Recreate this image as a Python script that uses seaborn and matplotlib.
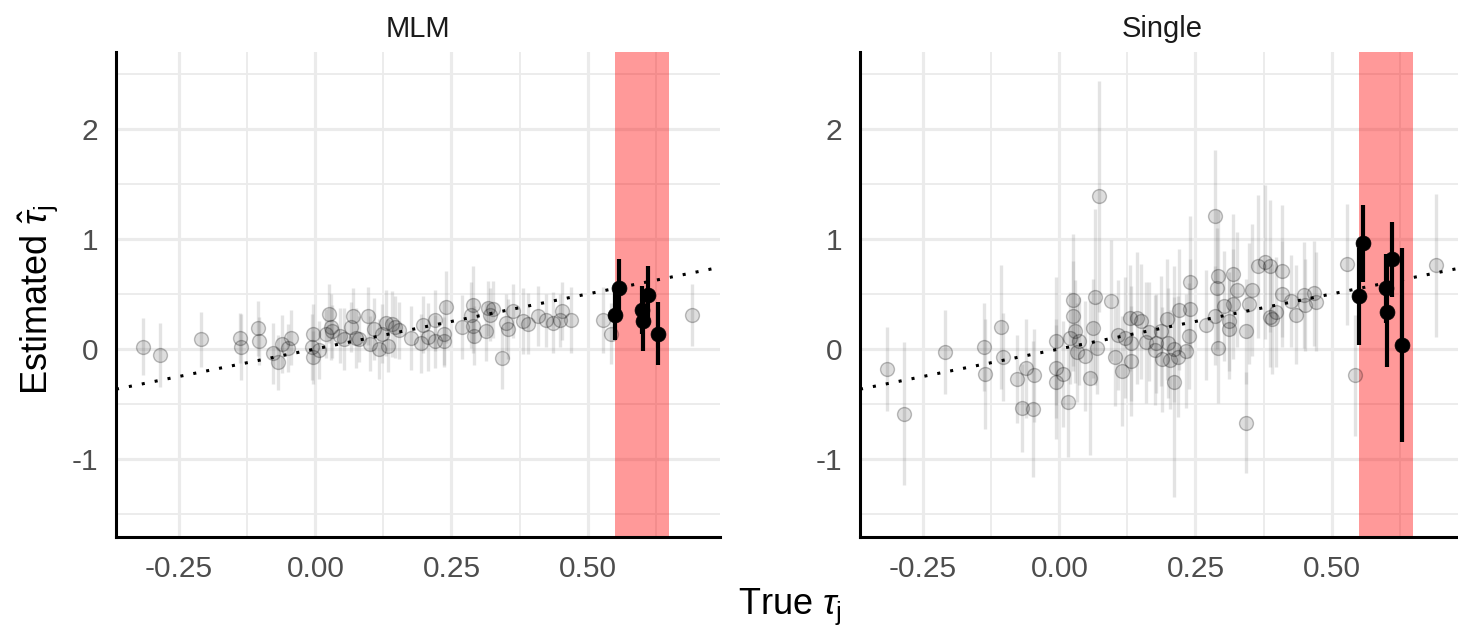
import matplotlib
matplotlib.use("Agg")
import numpy as np
import pandas as pd
import seaborn as sns
import matplotlib.pyplot as plt

# ---------------- data ----------------
panels = ["MLM", "Single"]
x_ticks = [-0.25, 0.0, 0.25, 0.50]
x_tick_labels = ["-0.25", "0.00", "0.25", "0.50"]
y_ticks = [-1, 0, 1, 2]
y_tick_labels = ["-1", "0", "1", "2"]
band_range = [0.55, 0.65]

# MLM panel, grey sites: true tau, estimate, half-width of interval
mlm_x = [-0.317, -0.286, -0.210, -0.138, -0.137, -0.106, -0.104, -0.077, -0.069, -0.061,
         -0.051, -0.045, -0.005, -0.006, -0.004, 0.007, 0.025, 0.028, 0.030, 0.020,
         0.045, 0.052, 0.070, 0.066, 0.075, 0.096, 0.080, 0.107, 0.122, 0.130,
         0.100, 0.116, 0.133, 0.140, 0.147, 0.153, 0.176, 0.194, 0.197, 0.206,
         0.219, 0.219, 0.237, 0.240, 0.237, 0.270, 0.289, 0.286, 0.292, 0.289,
         0.317, 0.314, 0.326, 0.320, 0.343, 0.350, 0.363, 0.354, 0.381, 0.390,
         0.409, 0.424, 0.436, 0.452, 0.450, 0.470, 0.528, 0.543, 0.692]
mlm_y = [0.02, -0.055, 0.09, 0.10, 0.015, 0.19, 0.07, -0.04, -0.12, 0.045,
         0.01, 0.10, 0.14, 0.02, -0.075, -0.01, 0.32, 0.20, 0.16, 0.14,
         0.12, 0.09, 0.30, 0.20, 0.10, 0.30, 0.09, 0.18, 0.14, 0.24,
         0.045, 0.00, 0.03, 0.23, 0.20, 0.17, 0.10, 0.05, 0.22, 0.11,
         0.26, 0.07, 0.14, 0.38, 0.07, 0.20, 0.40, 0.31, 0.12, 0.21,
         0.37, 0.16, 0.36, 0.31, -0.085, 0.24, 0.345, 0.18, 0.25, 0.23,
         0.30, 0.26, 0.24, 0.345, 0.26, 0.26, 0.26, 0.14, 0.31]
mlm_err = [0.26, 0.29, 0.25, 0.23, 0.30, 0.25, 0.22, 0.28, 0.25, 0.26,
           0.22, 0.25, 0.27, 0.30, 0.24, 0.26, 0.27, 0.30, 0.24, 0.22,
           0.25, 0.28, 0.25, 0.23, 0.27, 0.26, 0.21, 0.28, 0.27, 0.30,
           0.25, 0.27, 0.24, 0.30, 0.28, 0.26, 0.29, 0.27, 0.26, 0.31,
           0.28, 0.24, 0.30, 0.33, 0.22, 0.29, 0.35, 0.30, 0.27, 0.25,
           0.25, 0.27, 0.26, 0.24, 0.28, 0.26, 0.25, 0.27, 0.30, 0.28,
           0.27, 0.24, 0.28, 0.26, 0.24, 0.30, 0.30, 0.28, 0.28]

# Single panel, grey sites
single_x = [-0.317, -0.286, -0.210, -0.139, -0.136, -0.107, -0.103, -0.078, -0.069, -0.061,
            -0.049, -0.046, -0.006, -0.007, -0.006, 0.007, 0.015, 0.020, 0.025, 0.026,
            0.028, 0.032, 0.036, 0.047, 0.057, 0.061, 0.066, 0.070, 0.072, 0.095,
            0.107, 0.103, 0.115, 0.120, 0.129, 0.132, 0.132, 0.142, 0.150, 0.159,
            0.164, 0.175, 0.177, 0.189, 0.187, 0.198, 0.200, 0.204, 0.210, 0.210,
            0.218, 0.219, 0.233, 0.238, 0.239, 0.240, 0.270, 0.285, 0.286, 0.289,
            0.291, 0.291, 0.302, 0.311, 0.311, 0.319, 0.319, 0.327, 0.342, 0.342,
            0.349, 0.353, 0.365, 0.378, 0.387, 0.386, 0.390, 0.397, 0.409, 0.409,
            0.425, 0.435, 0.450, 0.451, 0.467, 0.471, 0.529, 0.542, 0.692]
single_y = [-0.185, -0.59, -0.03, 0.02, -0.23, 0.20, -0.075, -0.275, -0.54, -0.175,
            -0.545, -0.24, 0.07, -0.175, -0.30, -0.23, -0.48, 0.10, 0.445, 0.30,
            0.16, -0.03, 0.07, -0.06, -0.26, 0.19, 0.47, 0.01, 1.39, 0.44,
            0.13, -0.07, -0.20, 0.10, 0.28, 0.05, -0.11, 0.28, 0.25, 0.06,
            0.155, -0.01, 0.05, -0.095, 0.16, 0.27, 0.05, -0.10, -0.30, -0.005,
            -0.07, 0.355, -0.02, 0.12, 0.365, 0.605, 0.22, 1.21, 0.30, 0.55,
            0.66, 0.01, 0.39, 0.25, 0.18, 0.68, 0.41, 0.54, 0.16, -0.67,
            0.41, 0.54, 0.75, 0.79, 0.75, 0.29, 0.27, 0.34, 0.71, 0.50,
            0.435, 0.31, 0.49, 0.40, 0.505, 0.43, 0.77, -0.24, 0.76]
single_err = [0.38, 0.65, 0.38, 0.40, 0.50, 0.56, 0.40, 0.40, 0.40, 0.45,
              0.62, 0.42, 0.58, 0.45, 0.52, 0.48, 0.50, 0.42, 0.60, 0.50,
              0.47, 0.45, 0.40, 0.50, 0.70, 0.45, 0.80, 0.42, 1.05, 0.55,
              0.50, 0.45, 0.50, 0.55, 0.48, 0.52, 0.50, 0.60, 0.52, 0.55,
              0.45, 0.50, 0.45, 0.48, 0.50, 0.55, 0.50, 0.45, 1.05, 0.48,
              0.55, 0.55, 0.52, 0.48, 0.45, 0.60, 0.50, 0.60, 0.45, 0.55,
              0.60, 0.50, 0.50, 0.45, 0.45, 0.55, 0.50, 0.52, 0.48, 0.46,
              0.55, 0.60, 0.65, 0.70, 0.60, 0.45, 0.50, 0.50, 0.60, 0.48,
              0.42, 0.45, 0.48, 0.42, 0.48, 0.45, 0.55, 0.55, 0.65]

# highlighted sites (black)
hi_x = [0.550, 0.558, 0.599, 0.602, 0.610, 0.630]
hi_mlm_y = [0.31, 0.557, 0.355, 0.25, 0.49, 0.14]
hi_mlm_err = [0.23, 0.26, 0.22, 0.27, 0.26, 0.29]
hi_single_y = [0.48, 0.96, 0.55, 0.336, 0.815, 0.036]
hi_single_err = [0.44, 0.35, 0.31, 0.50, 0.34, 0.88]

grey_df = pd.concat([
    pd.DataFrame({"panel": "MLM", "true": mlm_x, "est": mlm_y, "err": mlm_err}),
    pd.DataFrame({"panel": "Single", "true": single_x, "est": single_y, "err": single_err}),
], ignore_index=True)
hi_df = pd.concat([
    pd.DataFrame({"panel": "MLM", "true": hi_x, "est": hi_mlm_y, "err": hi_mlm_err}),
    pd.DataFrame({"panel": "Single", "true": hi_x, "est": hi_single_y, "err": hi_single_err}),
], ignore_index=True)

# ---------------- style ----------------
sns.set_theme(style="white")
plt.rcParams["font.family"] = ["Liberation Sans", "DejaVu Sans"]
plt.rcParams["mathtext.fontset"] = "custom"
plt.rcParams["mathtext.rm"] = "Liberation Sans"
plt.rcParams["mathtext.it"] = "Liberation Sans:italic"

W, H = 1458, 631
fig = plt.figure(figsize=(W / 100, H / 100), dpi=100)
fig.patch.set_facecolor("white")

ax_left_px = [116, 860]
ax_w_px = 604
ax_top_px, ax_bot_px = 52, 537

for i, name in enumerate(panels):
    ax = fig.add_axes([ax_left_px[i] / W, 1 - ax_bot_px / H, ax_w_px / W, (ax_bot_px - ax_top_px) / H])
    ax.set_facecolor("white")
    g = grey_df[grey_df.panel == name]
    h = hi_df[hi_df.panel == name]

    ax.set_xlim(-0.366, 0.743)
    ax.set_ylim(-1.71, 2.70)
    ax.set_xticks(x_ticks)
    ax.set_xticklabels(x_tick_labels)
    ax.set_xticks([-0.125, 0.125, 0.375, 0.625], minor=True)
    ax.set_yticks(y_ticks)
    ax.set_yticklabels(y_tick_labels)
    ax.set_yticks([-1.5, -0.5, 0.5, 1.5, 2.5], minor=True)
    ax.set_axisbelow(True)
    ax.grid(which="major", color="#EBEBEB", lw=2.3)
    ax.grid(which="minor", color="#EBEBEB", lw=1.3)
    ax.tick_params(which="both", length=0, labelsize=21.5, labelcolor="#4D4D4D", pad=13)
    for s in ["top", "right"]:
        ax.spines[s].set_visible(False)
    for s in ["left", "bottom"]:
        ax.spines[s].set_color("black")
        ax.spines[s].set_linewidth(2.2)

    ax.axvspan(band_range[0], band_range[1], color="red", alpha=0.4, lw=0, zorder=1)

    ax.vlines(g["true"], g["est"] - g["err"], g["est"] + g["err"],
              color="grey", alpha=0.22, lw=2.4, zorder=2)
    sns.scatterplot(data=g, x="true", y="est", ax=ax, s=100,
                    color=(0, 0, 0, 0.13), edgecolor=(0, 0, 0, 0.25), linewidth=1.0,
                    zorder=3, legend=False)

    ax.axline((0, 0), slope=1, color="black", lw=2.2, ls=(0, (1, 3.3)),
              dash_capstyle="butt", zorder=4)

    ax.vlines(h["true"], h["est"] - h["err"], h["est"] + h["err"],
              color="black", lw=3.0, zorder=5)
    sns.scatterplot(data=h, x="true", y="est", ax=ax, s=115,
                    color="black", edgecolor="black", linewidth=0.5,
                    zorder=6, legend=False)

    ax.set_xlabel("")
    ax.set_ylabel("")
    ax.set_title(name, fontsize=21, color="#1A1A1A", pad=11)

fig.text(790 / W, 1 - 607 / H, r"True $\tau_\mathrm{j}$", ha="center", va="center",
         fontsize=26, color="black")
fig.text(38 / W, 1 - 300 / H, r"Estimated $\hat{\tau}_\mathrm{j}$", ha="center", va="center",
         rotation=90, fontsize=26, color="black")

fig.savefig("out.png", dpi=100, facecolor="white")
